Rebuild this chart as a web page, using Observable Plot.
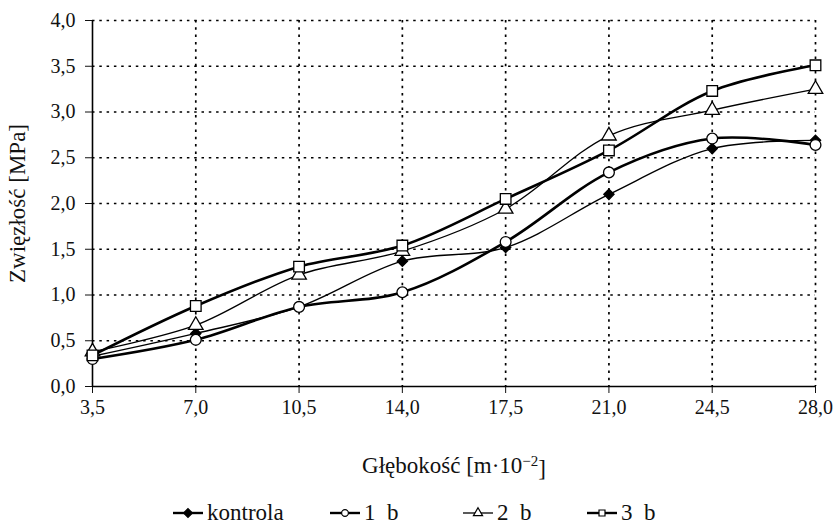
<!DOCTYPE html>
<html>
<head>
<meta charset="utf-8">
<script src="https://cdn.jsdelivr.net/npm/d3@7"></script>
<script src="https://cdn.jsdelivr.net/npm/@observablehq/plot@0.6"></script>
<style>
  html, body { margin: 0; padding: 0; background: #fff; }
  #wrap { position: relative; width: 838px; height: 525px; font-family: "Liberation Serif", "Times New Roman", Times, "DejaVu Serif", "Noto Serif", serif; color: #111; }
  #legend { position: absolute; left: 0; top: 501px; width: 838px; height: 24px; font-size: 23px; }
  .item { position: absolute; top: 0; display: flex; align-items: center; height: 24px; }
  .item svg { margin-right: 4px; }
</style>
</head>
<body>
<div id="wrap">
  <div id="chart"></div>
  <div id="legend"></div>
</div>
<script>
// ---- data ----
const depths = [3.5, 7.0, 10.5, 14.0, 17.5, 21.0, 24.5, 28.0];
const yTicks = [0, 0.5, 1.0, 1.5, 2.0, 2.5, 3.0, 3.5, 4.0];
const seriesNames = ["kontrola", "1  b", "2  b", "3  b"];
const kontrola = [0.33, 0.58, 0.87, 1.37, 1.52, 2.10, 2.60, 2.69];
const b1 = [0.30, 0.51, 0.87, 1.03, 1.58, 2.34, 2.71, 2.64];
const b2 = [0.38, 0.67, 1.22, 1.48, 1.94, 2.74, 3.02, 3.25];
const b3 = [0.34, 0.88, 1.31, 1.54, 2.05, 2.58, 3.23, 3.51];

const seriesValues = [kontrola, b1, b2, b3];
const styles = [
  {symbol: "diamond2", fill: "#000", r: 4.6, sw: 1.4},
  {symbol: "circle", fill: "#fff", r: 5.4, sw: 2.6},
  {symbol: "triangle", fill: "#fff", r: 5.4, sw: 1.3},
  {symbol: "square", fill: "#fff", r: 6.0, sw: 2.6}
];

const fmt = d => d.toFixed(1).replace(".", ",");
const FONT = '"Liberation Serif", "Times New Roman", Times, "DejaVu Serif", "Noto Serif", serif';

const marks = [
  Plot.gridX(depths.slice(1), {stroke: "#000", strokeOpacity: 1, strokeWidth: 1.7, strokeDasharray: "2.5,4.8"}),
  Plot.gridY(yTicks.slice(1), {stroke: "#000", strokeOpacity: 1, strokeWidth: 1.7, strokeDasharray: "2.5,4.8"}),
  Plot.axisX({ticks: depths, tickFormat: fmt, tickSize: 7, tickPadding: 6,
    label: "Głębokość [m·10-2]", labelAnchor: "center", labelArrow: "none", labelOffset: 86}),
  Plot.axisY({ticks: yTicks, tickFormat: fmt, tickSize: 7, tickPadding: 10,
    label: "Zwięzłość [MPa]", labelAnchor: "center", labelArrow: "none", labelOffset: 84}),
  Plot.ruleY([0], {stroke: "#000", strokeWidth: 1.6}),
  Plot.ruleX([3.5], {stroke: "#000", strokeWidth: 1.6})
];

seriesValues.forEach((vals, i) => {
  const rows = depths.map((d, j) => ({x: d, y: vals[j]}));
  marks.push(Plot.line(rows, {x: "x", y: "y", curve: "catmull-rom", stroke: "#000", strokeWidth: styles[i].sw}));
});
seriesValues.forEach((vals, i) => {
  const rows = depths.map((d, j) => ({x: d, y: vals[j]}));
  marks.push(Plot.dot(rows, {x: "x", y: "y", symbol: styles[i].symbol, r: styles[i].r,
    fill: styles[i].fill, stroke: "#000", strokeWidth: 1.3}));
});

const chart = Plot.plot({
  width: 838,
  height: 490,
  marginLeft: 92,
  marginRight: 23,
  marginTop: 20,
  marginBottom: 104,
  style: {fontFamily: FONT, fontSize: "20px", color: "#111", background: "#fff", overflow: "visible"},
  x: {domain: [3.5, 28]},
  y: {domain: [0, 4]},
  marks
});
document.getElementById("chart").appendChild(chart);

const root = d3.select(chart);
root.selectAll('g[aria-label="x-axis tick label"], g[aria-label="y-axis tick label"]')
  .attr("font-size", 20).style("font-size", "20px");
root.selectAll('g[aria-label="x-axis tick label"] text, g[aria-label="y-axis tick label"] text')
  .style("font-size", "20px");

// superscript in x label
const xl = root.select('g[aria-label="x-axis label"] text');
if (!xl.empty()) {
  xl.text(null).style("font-size", "23px");
  xl.append("tspan").text("Głębokość [m·10");
  xl.append("tspan").attr("dy", "-0.45em").style("font-size", "15px").text("−2");
  xl.append("tspan").attr("dy", "0.45em").text("]");
}
const yl = root.select('g[aria-label="y-axis label"] text');
if (!yl.empty()) yl.style("font-size", "23px");

// legend
const legendX = [173, 330, 463, 587];
const leg = document.getElementById("legend");
const symMap = {diamond2: d3.symbolDiamond2, circle: d3.symbolCircle, triangle: d3.symbolTriangle, square: d3.symbolSquare};
seriesNames.forEach((name, i) => {
  const st = styles[i];
  const item = document.createElement("div");
  item.className = "item";
  item.style.left = legendX[i] + "px";
  const s = d3.create("svg").attr("width", 30).attr("height", 16);
  s.append("line").attr("x1", 0).attr("x2", 30).attr("y1", 8).attr("y2", 8)
    .attr("stroke", "#000").attr("stroke-width", i === 2 ? 1.3 : 2.4);
  s.append("path").attr("transform", "translate(15,8)")
    .attr("d", d3.symbol(symMap[st.symbol], i === 0 ? 50 : 36)())
    .attr("fill", st.fill).attr("stroke", "#000").attr("stroke-width", 1.2);
  item.appendChild(s.node());
  const t = document.createElement("span");
  t.textContent = name;
  t.style.whiteSpace = "pre";
  item.appendChild(t);
  leg.appendChild(item);
});
</script>
</body>
</html>
